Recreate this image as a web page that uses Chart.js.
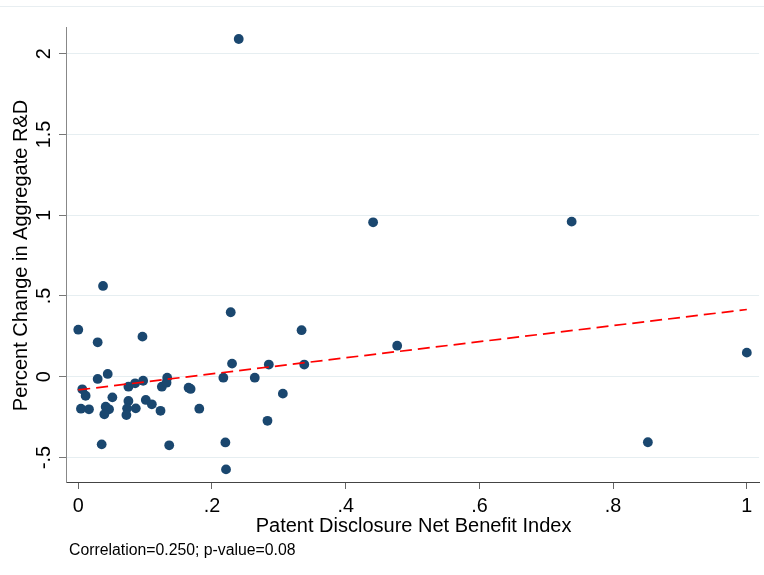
<!DOCTYPE html>
<html><head><meta charset="utf-8">
<script src="https://cdn.jsdelivr.net/npm/chart.js@4/dist/chart.umd.min.js"></script>
<style>html,body{margin:0;padding:0;background:#fff}#wrap{width:764px;height:575px;position:relative}canvas{display:block}</style>
</head><body><div id="wrap"><canvas id="c" width="764" height="575"></canvas></div>
<script>
// ---- data ----
const disclosureIndex = [0.000,0.037,0.029,0.096,0.029,0.044,0.006,0.011,0.004,0.016,
  0.051,0.041,0.046,0.039,0.035,0.075,0.085,0.097,0.075,0.073,
  0.072,0.086,0.101,0.110,0.123,0.125,0.133,0.132,0.136,0.165,
  0.168,0.181,0.228,0.230,0.217,0.220,0.221,0.240,0.334,0.285,
  0.338,0.477,0.264,0.306,0.283,0.441,0.738,1.000,0.852];
const rdChange = [0.291,0.562,0.213,0.248,-0.014,0.017,-0.078,-0.118,-0.198,-0.202,
  -0.128,-0.186,-0.202,-0.233,-0.419,-0.062,-0.041,-0.025,-0.150,-0.196,
  -0.237,-0.196,-0.144,-0.171,-0.211,-0.062,-0.006,-0.037,-0.425,-0.068,
  -0.076,-0.198,0.399,0.081,-0.006,-0.407,-0.574,2.091,0.288,0.075,
  0.075,0.192,-0.006,-0.105,-0.273,0.956,0.960,0.149,-0.406];
const fitX = [0, 1];
const fitY = [-0.082, 0.416];
const xTicks = [0, 0.2, 0.4, 0.6, 0.8, 1];
const xTickLabels = ['0', '.2', '.4', '.6', '.8', '1'];
const yTicks = [-0.5, 0, 0.5, 1, 1.5, 2];
const yTickLabels = ['-.5', '0', '.5', '1', '1.5', '2'];
const xTitle = 'Patent Disclosure Net Benefit Index';
const yTitle = 'Percent Change in Aggregate R&D';
const noteText = 'Correlation=0.250; p-value=0.08';

const scatterPts = disclosureIndex.map((x, i) => ({x: x, y: rdChange[i]}));
const fitPts = fitX.map((x, i) => ({x: x, y: fitY[i]}));

const FONT = '"Liberation Sans", Arial, sans-serif';

const textPlugin = {
  id: 'texts',
  beforeDraw(chart) {
    const ctx = chart.ctx;
    ctx.save();
    ctx.fillStyle = '#e8eef1';
    ctx.fillRect(0, 6, 764, 1);
    ctx.restore();
  },
  afterDraw(chart) {
    const ctx = chart.ctx, xs = chart.scales.x, ys = chart.scales.y, ca = chart.chartArea;
    ctx.save();
    ctx.fillStyle = '#000';
    ctx.textAlign = 'center';
    ctx.textBaseline = 'alphabetic';
    ctx.font = '19.8px ' + FONT;
    xTicks.forEach((v, i) => ctx.fillText(xTickLabels[i], xs.getPixelForValue(v), 512));
    yTicks.forEach((v, i) => {
      ctx.save();
      ctx.translate(50, ys.getPixelForValue(v));
      ctx.rotate(-Math.PI / 2);
      ctx.fillText(yTickLabels[i], 0, 0);
      ctx.restore();
    });
    ctx.font = '20px ' + FONT;
    ctx.fillText(xTitle, (ca.left + ca.right) / 2 + 1, 532);
    ctx.save();
    ctx.translate(27, 255.5);
    ctx.rotate(-Math.PI / 2);
    ctx.fillText(yTitle, 0, 0);
    ctx.restore();
    ctx.textAlign = 'left';
    ctx.font = '15.8px ' + FONT;
    ctx.fillText(noteText, 69, 555);
    ctx.restore();
  }
};

new Chart(document.getElementById('c'), {
  type: 'scatter',
  data: {
    datasets: [
      {
        type: 'line',
        data: fitPts,
        borderColor: '#ff0000',
        borderWidth: 1.7,
        borderDash: [12, 6],
        pointRadius: 0,
        fill: false,
        tension: 0
      },
      {
        type: 'scatter',
        data: scatterPts,
        backgroundColor: '#1a476f',
        borderColor: '#1a476f',
        borderWidth: 0,
        pointRadius: 4.9
      }
    ]
  },
  options: {
    responsive: false,
    animation: false,
    devicePixelRatio: 1,
    layout: {padding: {left: 0, top: 27, right: 4, bottom: 0}},
    plugins: {legend: {display: false}, tooltip: {enabled: false}},
    scales: {
      x: {
        type: 'linear',
        min: -0.01837,
        max: 1.01837,
        afterBuildTicks: s => { s.ticks = xTicks.map(v => ({value: v})); },
        afterFit: s => { s.height = 93; },
        ticks: {display: false},
        grid: {display: true, drawOnChartArea: false, drawTicks: true, tickLength: 7, tickColor: '#666', tickWidth: 1},
        border: {display: true, color: '#444', width: 1}
      },
      y: {
        type: 'linear',
        min: -0.652,
        max: 2.1653,
        afterBuildTicks: s => { s.ticks = yTicks.map(v => ({value: v})); },
        afterFit: s => { s.width = 66; },
        ticks: {display: false},
        grid: {display: true, color: '#e6eef1', lineWidth: 1, drawTicks: true, tickLength: 7, tickColor: '#777', tickWidth: 1},
        border: {display: true, color: '#888', width: 1}
      }
    }
  },
  plugins: [textPlugin]
});
</script>
</body></html>
